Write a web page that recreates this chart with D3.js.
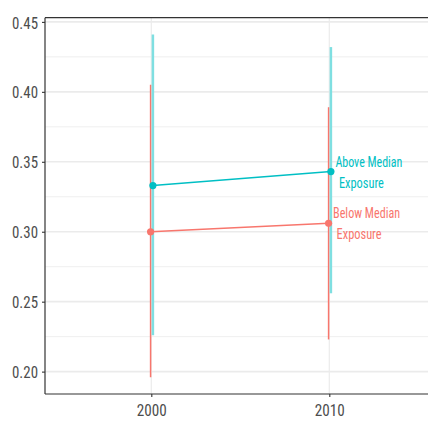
<!DOCTYPE html>
<html><head><meta charset="utf-8">
<script src="https://cdn.jsdelivr.net/npm/d3@7"></script>
<style>
html,body{margin:0;padding:0;background:#fff;}
svg{display:block;}
</style></head>
<body><div id="chart"></div>
<script>
// ---- data ----
const years = [2000, 2010];
const groups = ["Below Median Exposure", "Above Median Exposure"];
const belowMean = [0.300, 0.306];
const belowLow  = [0.196, 0.223];
const belowHigh = [0.405, 0.389];
const aboveMean = [0.333, 0.343];
const aboveLow  = [0.226, 0.256];
const aboveHigh = [0.441, 0.432];
const yTicks = [0.20, 0.25, 0.30, 0.35, 0.40, 0.45];
const yMinor = [0.225, 0.275, 0.325, 0.375, 0.425];
const xTicks = [2000, 2010];
const labelLines = [["Below Median", " Exposure"], ["Above Median", " Exposure"]];

const W = 428, H = 422;
const FONT = "'Liberation Sans Narrow','Roboto Condensed','Liberation Sans',Arial,sans-serif";
const colors = ["#F8766D", "#00BFC4"];
const errColors = ["#F8766D", "#7FDFE1"];
const errWidths = [1.5, 2.5];
const dodge = [-0.04, 0.09];

const series = [
  {name: groups[0], mean: belowMean, lo: belowLow, hi: belowHigh},
  {name: groups[1], mean: aboveMean, lo: aboveLow, hi: aboveHigh}
];

const x = d3.scaleLinear().domain([1994, 2016]).range([44.5, 44.5 + 22 * 17.8]);
const y = d3.scaleLinear().domain([0.184, 0.453]).range([394, 17.7]);

const svg = d3.select("#chart").append("svg").attr("width", W).attr("height", H);

const plotL = 45, plotR = W, plotT = 17.7, plotB = 394;

// grid
svg.append("g").selectAll("line").data(yMinor).join("line")
  .attr("x1", plotL).attr("x2", plotR)
  .attr("y1", d => y(d)).attr("y2", d => y(d))
  .attr("stroke", "#EBEBEB").attr("stroke-width", 0.8);
svg.append("g").selectAll("line").data(yTicks).join("line")
  .attr("x1", plotL).attr("x2", plotR)
  .attr("y1", d => y(d)).attr("y2", d => y(d))
  .attr("stroke", "#EBEBEB").attr("stroke-width", 1.6);
svg.append("g").selectAll("line").data(xTicks).join("line")
  .attr("x1", d => x(d)).attr("x2", d => x(d))
  .attr("y1", plotT).attr("y2", plotB)
  .attr("stroke", "#EBEBEB").attr("stroke-width", 1.2);

// top border
svg.append("line").attr("x1", plotL).attr("x2", plotR).attr("y1", plotT).attr("y2", plotT)
  .attr("stroke", "#333").attr("stroke-width", 1.2);

// axes
const yAxis = svg.append("g").attr("transform", `translate(${plotL},0)`)
  .call(d3.axisLeft(y).tickValues(yTicks).tickFormat(d3.format(".2f")).tickSize(3).tickPadding(4).tickSizeOuter(0));
yAxis.select(".domain").attr("d", `M0,${plotT}V${plotB}`).attr("stroke", "#333").attr("stroke-width", 1.2);
yAxis.selectAll(".tick line").attr("stroke", "#333").attr("stroke-width", 1.1);
yAxis.selectAll(".tick text").attr("fill", "#4D4D4D").style("font-family", FONT).style("font-size", "17px")
  .attr("textLength", 26).attr("lengthAdjust", "spacingAndGlyphs").attr("dy", "0.36em");

const xAxis = svg.append("g").attr("transform", `translate(0,${plotB})`)
  .call(d3.axisBottom(x).tickValues(xTicks).tickFormat(d3.format("d")).tickSize(3).tickPadding(7).tickSizeOuter(0));
xAxis.select(".domain").attr("d", `M${plotL},0H${plotR}`).attr("stroke", "#333").attr("stroke-width", 1.2);
xAxis.selectAll(".tick line").attr("stroke", "#333").attr("stroke-width", 1.1);
xAxis.selectAll(".tick text").attr("fill", "#4D4D4D").style("font-family", FONT).style("font-size", "17px")
  .attr("textLength", 30).attr("lengthAdjust", "spacingAndGlyphs");

// error bars
series.forEach((s, i) => {
  svg.append("g").selectAll("line").data(years).join("line")
    .attr("x1", (d, j) => x(d + dodge[i])).attr("x2", (d, j) => x(d + dodge[i]))
    .attr("y1", (d, j) => y(s.lo[j])).attr("y2", (d, j) => y(s.hi[j]))
    .attr("stroke", errColors[i]).attr("stroke-width", errWidths[i]);
});

// lines and points
series.forEach((s, i) => {
  const pts = years.map((d, j) => [x(d + dodge[i]), y(s.mean[j])]);
  svg.append("path").attr("d", d3.line()(pts)).attr("fill", "none")
    .attr("stroke", colors[i]).attr("stroke-width", 1.5);
  svg.append("g").selectAll("circle").data(pts).join("circle")
    .attr("cx", d => d[0]).attr("cy", d => d[1]).attr("r", 3.6).attr("fill", colors[i]);
});

// labels
const labelWidths = [[67, 45], [67, 45]];
series.forEach((s, i) => {
  const lx = x(years[1] + dodge[i]);
  const ly = y(s.mean[1]);
  const t = svg.append("text").attr("fill", colors[i]).style("font-family", FONT).style("font-size", "15.5px");
  t.append("tspan").attr("x", lx + 4.5).attr("y", ly - 5).text(labelLines[i][0])
    .attr("textLength", labelWidths[i][0]).attr("lengthAdjust", "spacingAndGlyphs");
  t.append("tspan").attr("x", lx + 8).attr("y", ly + 16).text(labelLines[i][1].trim())
    .attr("textLength", labelWidths[i][1]).attr("lengthAdjust", "spacingAndGlyphs");
});
</script></body></html>
